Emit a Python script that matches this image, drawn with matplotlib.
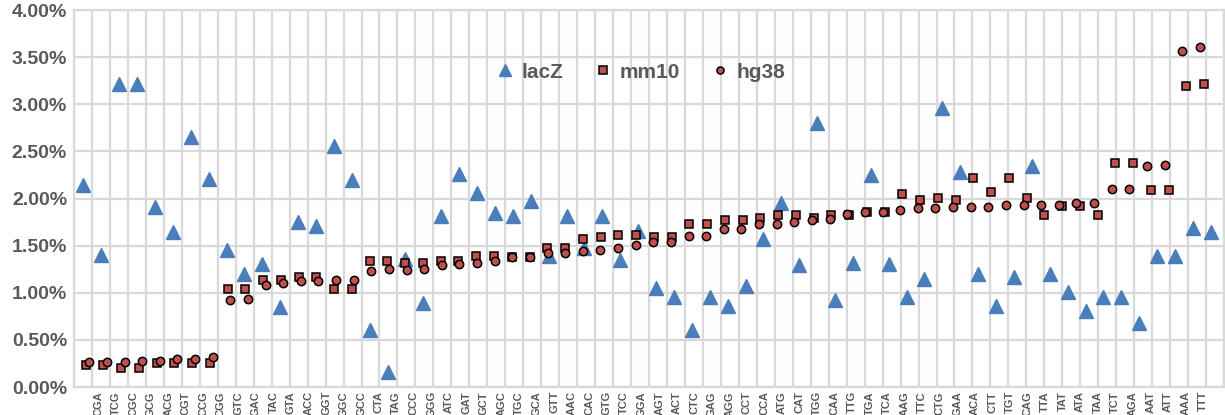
import numpy as np
import matplotlib
matplotlib.use("Agg")
import matplotlib.pyplot as plt
from matplotlib.ticker import PercentFormatter, MultipleLocator

# codons (x axis)
codons = ["CGA", "TCG", "CGC", "GCG", "ACG", "CGT", "CCG", "CGG",
          "GTC", "GAC", "TAC", "GTA", "ACC", "GGT", "GGC", "GCC",
          "CTA", "TAG", "CCC", "GGG", "ATC", "GAT", "GCT", "AGC",
          "TGC", "GCA", "GTT", "AAC", "CAC", "GTG", "TCC", "GGA",
          "AGT", "ACT", "CTC", "GAG", "AGG", "CCT", "CCA", "ATG",
          "CAT", "TGG", "CAA", "TTG", "TGA", "TCA", "AAG", "TTC",
          "CTG", "GAA", "ACA", "CTT", "TGT", "CAG", "TTA", "TAT",
          "ATA", "TAA", "TCT", "AGA", "AAT", "ATT", "AAA", "TTT"]

# frequencies in %
lacz = [2.14, 1.40, 3.22, 3.22, 1.91, 1.64, 2.65, 2.21,
        1.45, 1.20, 1.31, 0.85, 1.75, 1.71, 2.56, 2.20,
        0.60, 0.16, 1.36, 0.89, 1.81, 2.26, 2.06, 1.85,
        1.81, 1.97, 1.39, 1.81, 1.47, 1.81, 1.35, 1.65,
        1.05, 0.95, 0.61, 0.95, 0.86, 1.07, 1.57, 1.95,
        1.29, 2.80, 0.92, 1.32, 2.25, 1.30, 0.96, 1.15,
        2.96, 2.28, 1.20, 0.86, 1.17, 2.34, 1.20, 1.01,
        0.81, 0.96, 0.96, 0.68, 1.39, 1.39, 1.69, 1.64]

mm10 = [0.23, 0.23, 0.20, 0.20, 0.25, 0.25, 0.25, 0.25,
        1.04, 1.04, 1.13, 1.13, 1.17, 1.17, 1.04, 1.04,
        1.34, 1.34, 1.32, 1.32, 1.34, 1.34, 1.39, 1.39,
        1.38, 1.38, 1.47, 1.47, 1.57, 1.59, 1.61, 1.61,
        1.59, 1.59, 1.73, 1.73, 1.77, 1.77, 1.79, 1.83,
        1.83, 1.79, 1.83, 1.83, 1.86, 1.86, 2.05, 1.98,
        2.01, 1.98, 2.22, 2.07, 2.22, 2.01, 1.82, 1.92,
        1.92, 1.82, 2.38, 2.38, 2.09, 2.09, 3.19, 3.21]

hg38 = [0.26, 0.27, 0.27, 0.28, 0.28, 0.30, 0.30, 0.32,
        0.92, 0.93, 1.08, 1.10, 1.12, 1.12, 1.14, 1.14,
        1.23, 1.25, 1.24, 1.25, 1.29, 1.31, 1.32, 1.34,
        1.38, 1.38, 1.42, 1.42, 1.44, 1.45, 1.47, 1.51,
        1.54, 1.54, 1.60, 1.60, 1.68, 1.68, 1.73, 1.73,
        1.75, 1.77, 1.78, 1.84, 1.86, 1.86, 1.88, 1.90,
        1.90, 1.91, 1.91, 1.91, 1.93, 1.93, 1.93, 1.93,
        1.95, 1.95, 2.10, 2.10, 2.34, 2.36, 3.57, 3.61]

idx = np.arange(len(codons))
# each series sits on a slightly different horizontal scale in the original
x_lacz = 0.02 + idx * 0.996
x_mm10 = 0.15 + idx * 0.988
x_hg38 = 0.35 + idx * 0.981
x_lbl = 0.84 + idx * 0.976

grey = "#595959"
grid = "#d9d9d9"
plt.rcParams["font.family"] = ["Liberation Sans", "DejaVu Sans"]
plt.rcParams["font.weight"] = "bold"

fig = plt.figure(figsize=(12.25, 4.15), dpi=100)
ax = fig.add_axes([74 / 1225, 1 - 387 / 415, 1150 / 1225, 377 / 415])

ax.plot(x_lacz, lacz, "^", color="#4a7ebb", ms=9.5, mec="#4a7ebb", label="lacZ", zorder=3)
ax.plot(x_mm10, mm10, "s", color="#c0504d", ms=6, mec="black", mew=1.1, label="mm10", zorder=4)
ax.plot(x_hg38, hg38, "o", color="#c0504d", ms=6, mec="black", mew=1.1, label="hg38", zorder=5)

ax.set_xlim(-0.5, len(codons) - 0.5)
ax.set_ylim(0, 4)
ax.yaxis.set_major_locator(MultipleLocator(0.5))
ax.yaxis.set_major_formatter(PercentFormatter(xmax=100, decimals=2))
ax.set_xticks(x_lbl)
ax.set_xticklabels(codons, rotation=90, fontsize=8, fontweight="bold",
                   family="Liberation Sans", color=grey)
ax.set_xticks(np.arange(-0.5, len(codons)), minor=True)
ax.tick_params(axis="x", which="both", length=0, pad=3)
ax.tick_params(axis="y", length=0, pad=5, labelsize=14, labelcolor=grey)
for t in ax.get_yticklabels():
    t.set_fontweight("bold")
    t.set_family("Liberation Sans")

ax.grid(True, axis="y", which="major", color=grid, lw=1.6)
ax.grid(True, axis="x", which="minor", color=grid, lw=1.6)
ax.grid(False, axis="x", which="major")
ax.set_axisbelow(True)
for s in ax.spines.values():
    s.set_color(grid)
    s.set_linewidth(1.6)

leg = ax.legend(loc="center", bbox_to_anchor=(641 / 1225, 1 - 72 / 415),
                bbox_transform=fig.transFigure, ncol=3, frameon=False,
                columnspacing=1.5, handlelength=0.8, handletextpad=0.4,
                markerscale=0.85,
                prop={"family": "Liberation Sans", "weight": "bold", "size": 15})
for t in leg.get_texts():
    t.set_color(grey)

fig.savefig("out.png", dpi=100)
